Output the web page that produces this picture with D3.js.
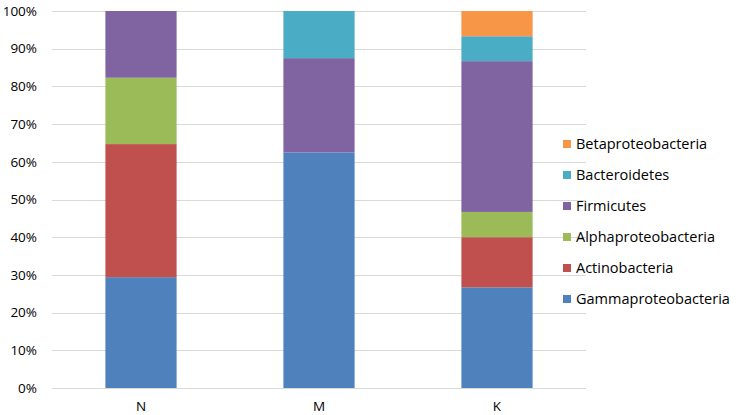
<!DOCTYPE html>
<html><head><meta charset="utf-8">
<script src="https://cdn.jsdelivr.net/npm/d3@7"></script>
<style>body{margin:0;background:#fff}svg{display:block}text{font-family:"Open Sans",Lato,sans-serif;fill:#000}</style>
</head><body><svg id="c" width="738" height="415"></svg>
<script>
const categories = ["N", "M", "K"];
const seriesNames = ["Gammaproteobacteria","Actinobacteria","Alphaproteobacteria","Firmicutes","Bacteroidetes","Betaproteobacteria"];
const colors = ["#4F81BD","#C0504D","#9BBB59","#8064A2","#4BACC6","#F79646"];
const gamma = [29.4, 62.5, 26.7];
const actino = [35.3, 0, 13.3];
const alpha = [17.6, 0, 6.7];
const firmicutes = [17.7, 25.0, 40.0];
const bacteroidetes = [0, 12.5, 6.6];
const beta = [0, 0, 6.7];
const yTicks = [0,10,20,30,40,50,60,70,80,90,100];

const seriesVals = [gamma, actino, alpha, firmicutes, bacteroidetes, beta];
const rows = categories.map((c,i)=>{const r={cat:c}; seriesNames.forEach((s,j)=>r[s]=seriesVals[j][i]); return r;});
const stack = d3.stack().keys(seriesNames)(rows);

const svg = d3.select("#c");
const L=52, R=586, T=11, B=388;
const x = d3.scaleBand().domain(categories).range([L,R]).paddingInner(0.6).paddingOuter(0.3);
const y = d3.scaleLinear().domain([0,100]).range([B,T]);

svg.append("g").selectAll("line").data(yTicks).join("line")
  .attr("x1",L).attr("x2",R).attr("y1",d=>Math.round(y(d))+0.5).attr("y2",d=>Math.round(y(d))+0.5)
  .attr("stroke","#d9d9d9").attr("stroke-width",1);

svg.append("g").selectAll("text").data(yTicks).join("text")
  .attr("x",37).attr("y",d=>y(d)).attr("dy","0.35em").attr("text-anchor","end")
  .attr("font-size",13.5).text(d=>d+"%");

svg.append("g").selectAll("g").data(stack).join("g").attr("fill",(d,i)=>colors[i])
  .selectAll("rect").data(d=>d).join("rect")
  .attr("x",d=>x(d.data.cat)).attr("width",x.bandwidth())
  .attr("y",d=>y(d[1])).attr("height",d=>y(d[0])-y(d[1]));

svg.append("g").selectAll("text").data(categories).join("text")
  .attr("x",d=>x(d)+x.bandwidth()/2).attr("y",406).attr("dy","0.35em").attr("text-anchor","middle")
  .attr("font-size",13.5).text(d=>d);

const leg = svg.append("g");
const legOrder = seriesNames.map((s,i)=>i).reverse();
legOrder.forEach((si,k)=>{
  const yy = 144 + k*31;
  leg.append("rect").attr("x",563).attr("y",yy-4).attr("width",8).attr("height",8).attr("fill",colors[si]);
  leg.append("text").attr("x",576).attr("y",yy).attr("dy","0.35em").attr("font-size",14.5).text(seriesNames[si]);
});
</script></body></html>
